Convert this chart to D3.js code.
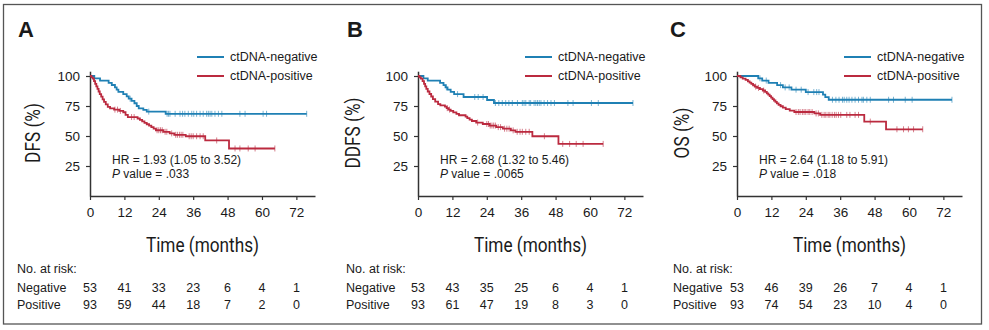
<!DOCTYPE html>
<html>
<head>
<meta charset="utf-8">
<script src="https://cdn.jsdelivr.net/npm/d3@7/dist/d3.min.js"></script>
<style>
  body { margin: 0; background: #fff; }
  text { font-family: "Liberation Sans", Arial, sans-serif; fill: #1a1a1a; }
  .title { font-family: Roboto, "Liberation Sans", sans-serif; font-size: 21px; }
</style>
</head>
<body>
<svg id="chart" width="989" height="330"></svg>
<script>

// shared axis values
var timeTicks = [0, 12, 24, 36, 48, 60, 72];
var survTicks = [25, 50, 75, 100];

var panelLetters = ["A", "B", "C"];
var yTitles = ["DFS (%)", "DDFS (%)", "OS (%)"];
var hrLabels = ["HR = 1.93 (1.05 to 3.52)", "HR = 2.68 (1.32 to 5.46)", "HR = 2.64 (1.18 to 5.91)"];
var pLabels = [" value = .033", " value = .0065", " value = .018"];
var groupNames = ["ctDNA-negative", "ctDNA-positive"];

// KM steps: [month, survival % after the drop]
var dfsNeg = [[0,100],[1.5,98.1],[3.5,96.2],[6.5,94.3],[7.6,92.5],[8.7,90.6],[9.3,88.7],[9.9,86.8],[11.6,84.9],[12.8,83.0],[13.5,81.1],[14.5,79.2],[15.5,77.3],[16.3,75.0],[17.0,73.0],[18.6,71.7],[19.8,70.3],[26.4,68.5]];
var dfsPos = [[0,100],[0.5,98.9],[1.0,97.8],[1.4,95.7],[1.8,93.5],[2.2,91.4],[2.6,89.2],[3.0,87.1],[3.4,84.9],[3.9,82.8],[4.4,80.6],[4.9,78.5],[5.5,76.3],[6.2,74.2],[7.0,73.1],[8.4,72.0],[10.2,70.9],[11.6,69.8],[12.4,67.6],[13.2,65.8],[16.6,64.6],[17.4,63.4],[18.2,62.2],[19.0,61.0],[19.8,59.8],[20.6,58.6],[21.4,57.4],[22.2,56.1],[23.0,54.8],[25.6,53.5],[27.8,52.2],[29.4,51.0],[33.4,49.8],[40.2,46.3],[48.5,39.6]];
var ddfsNeg = [[0,100],[1.9,98.1],[3.4,96.2],[7.7,94.3],[8.9,92.4],[9.6,90.6],[10.3,88.7],[11.4,86.8],[12.6,84.9],[15.9,82.5],[24.1,80.0],[26.5,77.5]];
var ddfsPos = [[0,100],[0.5,98.9],[1.0,97.8],[1.6,95.7],[2.1,93.5],[2.5,91.4],[2.9,89.2],[3.4,87.1],[4.0,85.0],[4.6,82.9],[5.2,80.8],[6.0,78.7],[7.0,76.6],[7.8,75.5],[9.4,74.4],[10.0,73.2],[10.6,72.0],[11.4,70.9],[12.3,69.7],[13.4,68.5],[14.3,67.3],[16.6,66.1],[17.2,64.9],[18.0,63.7],[18.8,62.5],[20.3,61.2],[22.6,60.0],[25.0,58.7],[27.3,57.4],[29.6,56.1],[32.4,54.7],[34.0,53.5],[39.9,49.8],[49.0,43.4]];
var osNeg = [[0,100],[7.4,98.1],[8.8,96.2],[11.0,94.3],[14.0,92.4],[16.0,90.5],[19.0,88.6],[24.0,86.6],[30.0,84.5],[30.8,82.4],[32.0,80.2]];
var osPos = [[0,100],[1.2,98.9],[2.0,97.8],[3.0,96.7],[3.8,95.6],[4.4,94.5],[5.0,93.4],[5.6,92.3],[6.2,91.2],[7.0,90.1],[8.0,89.0],[9.0,87.9],[9.8,86.8],[10.4,85.6],[10.9,84.4],[11.4,83.2],[11.9,82.0],[12.4,80.8],[12.9,79.6],[13.4,78.4],[13.9,77.2],[14.5,76.0],[15.2,74.8],[16.0,73.6],[17.0,72.4],[18.4,71.2],[20.0,70.0],[27.0,68.8],[29.0,67.6],[44.4,62.0],[52.0,55.6]];

// censored times (months); the last one is where the curve stops
var dfsNegCens = [14.0,20.5,26.9,27.4,27.9,29.7,31.4,32.3,33.1,34.3,35.5,36.2,37.2,38.4,39.5,40.7,41.3,41.9,42.5,43.6,44.8,46.0,52.3,54.1,60.4,61.6,75.6];
var dfsPosCens = [8.7,9.6,10.6,14.5,15.4,23.4,24.0,24.6,25.2,26.2,26.8,28.5,29.9,30.5,31.2,31.8,32.4,34.6,35.3,36.0,37.2,38.4,39.5,44.2,50.6,52.3,55.2,57.6,64.5];
var ddfsNegCens = [9.9,13.8,19.8,21.0,22.7,27.0,28.2,29.4,30.6,31.7,32.9,34.7,36.4,37.0,37.6,38.8,39.3,40.5,41.1,41.7,42.3,42.9,44.0,45.2,46.4,47.6,52.3,54.1,60.5,62.9,75.0];
var ddfsPosCens = [10.2,11.0,20.8,24.0,24.6,25.2,25.8,26.4,27.0,28.0,28.8,30.2,31.0,31.8,33.2,34.6,35.6,36.4,37.6,38.8,44.1,50.5,52.9,55.2,57.6,64.6];
var osNegCens = [8.0,10.2,15.2,16.8,18.2,20.6,22.4,24.8,26.8,27.8,28.6,33.3,34.5,35.6,36.8,37.4,38.3,39.1,40.1,41.2,42.4,43.6,44.1,45.3,46.5,52.9,54.6,58.7,61.1,75.0];
var osPosCens = [6.5,7.5,9.3,20.6,21.4,22.0,22.8,23.4,24.0,24.8,25.4,26.2,27.6,28.4,29.6,30.4,31.0,31.8,32.4,33.2,34.0,34.6,35.4,36.2,38.3,39.4,41.2,42.4,46.5,55.8,58.1,59.8,61.6,64.8];

// numbers at risk at each time tick
var dfsRiskNeg = [53, 41, 33, 23, 6, 4, 1];
var dfsRiskPos = [93, 59, 44, 18, 7, 2, 0];
var ddfsRiskNeg = [53, 43, 35, 25, 6, 4, 1];
var ddfsRiskPos = [93, 61, 47, 19, 8, 3, 0];
var osRiskNeg = [53, 46, 39, 26, 7, 4, 1];
var osRiskPos = [93, 74, 54, 23, 10, 4, 0];

var colors = ["#1f80b4", "#bb2a3f"];

var panels = [
    {axisX: 90,  letterX: 18,  titleX: 33,  tableX: 17,  curves: [dfsNeg, dfsPos],   cens: [dfsNegCens, dfsPosCens],   risk: [dfsRiskNeg, dfsRiskPos]},
    {axisX: 418, letterX: 347, titleX: 353, tableX: 346, curves: [ddfsNeg, ddfsPos], cens: [ddfsNegCens, ddfsPosCens], risk: [ddfsRiskNeg, ddfsRiskPos]},
    {axisX: 737, letterX: 670, titleX: 682, tableX: 673, curves: [osNeg, osPos],     cens: [osNegCens, osPosCens],     risk: [osRiskNeg, osRiskPos]}
];

var svg = d3.select("#chart");

svg.append("rect").attr("x", 3.5).attr("y", 4.5).attr("width", 978).attr("height", 319.5)
    .attr("fill", "none").attr("stroke", "#555").attr("stroke-width", 1.3);

var y = d3.scaleLinear().domain([0, 104]).range([196, 71.2]);

panels.forEach(function(p, i) {
    var g = svg.append("g");
    var x = d3.scaleLinear().domain([0, 78.5]).range([p.axisX, p.axisX + 225]);

    g.append("text").attr("x", p.letterX).attr("y", 37)
        .style("font-size", "22px").style("font-weight", "bold").text(panelLetters[i]);

    // axes
    var yAxis = g.append("g").attr("transform", "translate(" + p.axisX + ",0)")
        .call(d3.axisLeft(y).tickValues(survTicks).tickSize(4).tickSizeOuter(0).tickPadding(6));
    var xAxis = g.append("g").attr("transform", "translate(0,196)")
        .call(d3.axisBottom(x).tickValues(timeTicks).tickSize(4).tickSizeOuter(0).tickPadding(7));
    [yAxis, xAxis].forEach(function(a) {
        a.select(".domain").attr("stroke", "#333").attr("stroke-width", 1.5);
        a.selectAll(".tick line").attr("stroke", "#333").attr("stroke-width", 1.2);
        a.selectAll(".tick text").style("font-size", "13.5px").style("font-family", "Liberation Sans, Arial, sans-serif").attr("fill", "#1a1a1a");
    });

    // narrow axis titles
    g.append("text").attr("class", "title")
        .attr("transform", "translate(" + p.titleX + ",133) rotate(-90) scale(0.82,1)")
        .attr("text-anchor", "middle").attr("dy", "0.35em").text(yTitles[i]);
    g.append("text").attr("class", "title")
        .attr("transform", "translate(" + (p.axisX + 112.5) + ",252) scale(0.82,1)")
        .attr("text-anchor", "middle").text("Time (months)");

    // curves + censor ticks
    p.curves.forEach(function(steps, k) {
        var end = d3.max(p.cens[k]);
        var pts = steps.concat([[end, steps[steps.length - 1][1]]]);
        var line = d3.line().x(function(d) { return x(d[0]); }).y(function(d) { return y(d[1]); })
            .curve(d3.curveStepAfter);
        g.append("path").datum(pts).attr("d", line).attr("fill", "none")
            .attr("stroke", colors[k]).attr("stroke-width", 1.8);

        var bis = d3.bisector(function(d) { return d[0]; }).right;
        g.selectAll(null).data(p.cens[k]).enter().append("line")
            .attr("x1", function(t) { return x(t); }).attr("x2", function(t) { return x(t); })
            .attr("y1", function(t) { return y(steps[bis(steps, t) - 1][1]) - 3; })
            .attr("y2", function(t) { return y(steps[bis(steps, t) - 1][1]) + 3; })
            .attr("stroke", colors[k]).attr("stroke-opacity", 0.6).attr("stroke-width", 1);
    });

    // legend
    groupNames.forEach(function(name, k) {
        var ly = 57 + k * 19;
        g.append("line").attr("x1", p.axisX + 107).attr("x2", p.axisX + 134).attr("y1", ly).attr("y2", ly)
            .attr("stroke", colors[k]).attr("stroke-width", 2);
        g.append("text").attr("x", p.axisX + 140).attr("y", ly).attr("dy", "0.35em")
            .style("font-size", "12.5px").text(name);
    });

    g.append("text").attr("x", p.axisX + 22).attr("y", 163.5).style("font-size", "12px").text(hrLabels[i]);
    var pt = g.append("text").attr("x", p.axisX + 22).attr("y", 177.5).style("font-size", "12px");
    pt.append("tspan").style("font-style", "italic").text("P");
    pt.append("tspan").text(pLabels[i]);

    // numbers at risk
    g.append("text").attr("x", p.tableX).attr("y", 269).attr("dy", "0.35em").style("font-size", "12.5px").text("No. at risk:");
    ["Negative", "Positive"].forEach(function(lab, k) {
        var ry = 288 + k * 17;
        g.append("text").attr("x", p.tableX).attr("y", ry).attr("dy", "0.35em").style("font-size", "12.5px").text(lab);
        g.selectAll(null).data(p.risk[k]).enter().append("text")
            .attr("x", function(d, j) { return x(timeTicks[j]); }).attr("y", ry).attr("dy", "0.35em")
            .attr("text-anchor", "middle").style("font-size", "12.5px")
            .text(function(d) { return d; });
    });
});

</script>
</body>
</html>
